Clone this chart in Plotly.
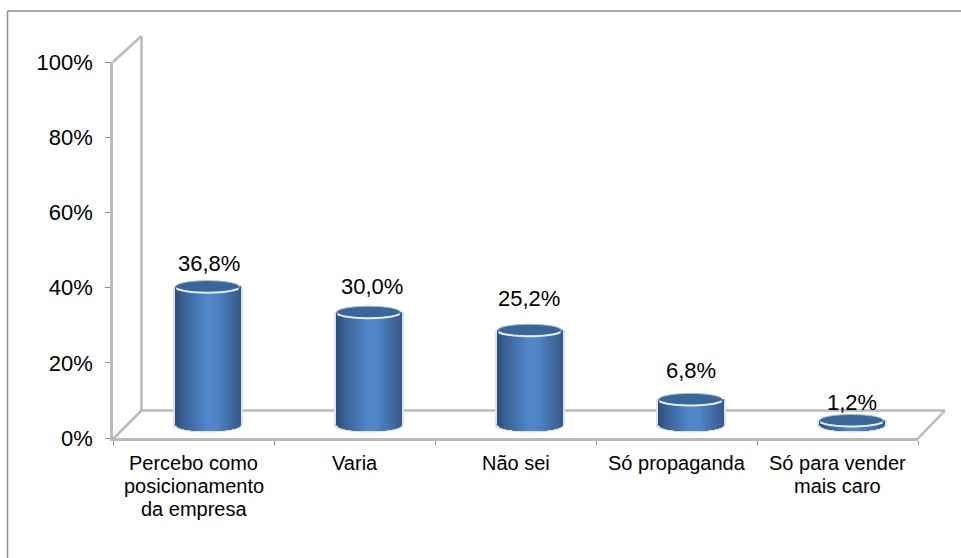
import math
import plotly.graph_objects as go

categories = ["Percebo como<br>posicionamento<br>da empresa", "Varia", "Não sei",
              "Só propaganda", "Só para vender<br>mais caro"]
values = [36.8, 30.0, 25.2, 6.8, 1.2]
value_labels = ["36,8%", "30,0%", "25,2%", "6,8%", "1,2%"]
y_ticks = [0, 20, 40, 60, 80, 100]
y_tick_labels = ["0%", "20%", "40%", "60%", "80%", "100%"]

# Hand-placed data labels: pixels above / beside the top of each cylinder
label_lift = [23, 26, 32, 29, 18]
label_nudge = [1, 3, -1, 0, 0]

W, H = 961, 558
FONT = "Liberation Sans"
WALL = "#bababa"
BAR_PX = 66
RY = 6
FONT_SIZE = 20
NUMBER_SIZE = 22


def px(x):
    return x / W


def py(y):
    return 1 - y / H


# Plot planes in page pixels: front plane carries the axes, mid plane the cylinders
FRONT_X = (113, 918)
FRONT_Y = (438, 62)
MID_X = (127, 932)
MID_BASE = 425
UNIT = (FRONT_Y[0] - FRONT_Y[1]) / 100
MID_BELOW = 4  # value units kept under the baseline so the round bottom is not clipped
MID_Y = (MID_BASE + MID_BELOW * UNIT, MID_BASE - 110 * UNIT)

STOPS = [(0.0, (43, 76, 118)), (0.12, (56, 96, 148)), (0.5, (82, 136, 204)),
         (0.62, (80, 134, 200)), (0.88, (62, 104, 158)), (1.0, (52, 90, 138))]


def shade(t):
    for (a, ca), (b, cb) in zip(STOPS, STOPS[1:]):
        if t <= b:
            f = (t - a) / (b - a)
            return "rgb(%d,%d,%d)" % tuple(round(p + (q - p) * f) for p, q in zip(ca, cb))
    return "rgb(%d,%d,%d)" % STOPS[-1][1]


STRIPS = 26
cat_width = (MID_X[1] - MID_X[0]) / len(categories)
bar_units = BAR_PX / cat_width

fig = go.Figure()

# Pale halo behind each cylinder
fig.add_trace(go.Bar(x=categories, y=values, xaxis="x2", yaxis="y2",
                     width=(BAR_PX + 4) / cat_width, marker=dict(color="#dfe3e8", line_width=0),
                     hoverinfo="skip", showlegend=False))

# Cylinder body: each strip runs to the right edge and is overpainted by the next one
for k in range(STRIPS):
    t = k / STRIPS
    fig.add_trace(go.Bar(x=categories, y=values, xaxis="x2", yaxis="y2",
                         offset=(t - 0.5) * bar_units, width=(1 - t) * bar_units,
                         marker=dict(color=shade((k + 0.5) / STRIPS), line_width=0),
                         hoverinfo="skip", showlegend=False))

shapes = []


def frame(x0, y0, x1, y1):
    shapes.append(dict(type="line", xref="paper", yref="paper", layer="below",
                       x0=px(x0), y0=py(y0), x1=px(x1), y1=py(y1),
                       line=dict(color=WALL, width=2.5)))


# Outer chart border (top and left only)
for a, b, c, d in [(7.5, 11, 961, 11), (7.5, 11, 7.5, 558)]:
    shapes.append(dict(type="line", xref="paper", yref="paper", layer="below",
                       x0=px(a), y0=py(b), x1=px(c), y1=py(d),
                       line=dict(color="#8c8c8c", width=1.5)))

# Back wall, floor edge and depth diagonals
frame(141.5, 36, 141.5, 410.5)
frame(141.5, 410.5, 945, 410.5)
frame(113, 62, 141.5, 36)
frame(113, 439, 141.5, 410.5)
frame(917.5, 439, 945, 410.5)


def anchored(cat, anchor_y, **kw):
    return dict(xref="x2", yref="y2", xsizemode="pixel", ysizemode="pixel",
                xanchor=cat, yanchor=anchor_y, **kw)


def arc_path(x_from, x_to, rx, ry, sign, n=8):
    pts = []
    for j in range(n + 1):
        x = x_from + (x_to - x_from) * j / n
        pts.append((x, sign * ry * math.sqrt(max(0.0, 1 - (x / rx) ** 2))))
    return pts


rx = BAR_PX / 2
for cat, v in zip(categories, values):
    # Light rim below the round base, hidden behind the body except for its lower edge
    shapes.append(anchored(cat, 0, type="circle", layer="below", x0=-rx - 2, x1=rx + 2,
                           y0=-RY - 1.5, y1=RY, fillcolor="#d9dfe6", line_width=0))
    # Round base: same strips as the body, following the lower half of an ellipse
    for k in range(STRIPS):
        t = k / STRIPS
        pts = arc_path(-rx + 2 * rx * t, rx, rx, RY, -1)
        d = "M%.2f,0.5 " % pts[0][0] + " ".join("L%.2f,%.2f" % p for p in pts) + " L%.2f,0.5 Z" % rx
        shapes.append(anchored(cat, 0, type="path", layer="above", path=d,
                               fillcolor=shade((k + 0.5) / STRIPS), line_width=0))
    # Top face with its pale rim
    shapes.append(anchored(cat, v, type="circle", layer="above", x0=-rx + 1, x1=rx - 1,
                           y0=-RY, y1=RY, fillcolor="#3a6799",
                           line=dict(color="#a9bbd1", width=1)))
    lower = arc_path(-rx + 2, rx - 2, rx, RY, -1, n=16)
    d = "M" + " L".join("%.2f,%.2f" % p for p in lower)
    shapes.append(anchored(cat, v, type="path", layer="above", path=d,
                           line=dict(color="#e6ecf3", width=2)))

annotations = []
for cat, v, text, lift, nudge in zip(categories, values, value_labels, label_lift, label_nudge):
    annotations.append(dict(xref="x2", yref="y2", x=cat, y=v, text=text, showarrow=False,
                            yshift=lift, xshift=nudge, xanchor="center", yanchor="middle",
                            font=dict(family=FONT, size=NUMBER_SIZE, color="#000000")))

# Category labels, one annotation per line for tighter leading than the axis allows
for i, cat in enumerate(categories):
    for n, line in enumerate(cat.split("<br>")):
        annotations.append(dict(xref="x", yref="y", x=i, y=0, text=line, showarrow=False,
                                yshift=-25 - 23 * n, xanchor="center", yanchor="middle",
                                font=dict(family=FONT, size=FONT_SIZE, color="#000000")))

# Category axis: ticks sit on the boundaries between categories
boundaries = [i - 0.5 for i in range(len(categories) + 1)]

fig.update_layout(
    width=W, height=H, autosize=False, margin=dict(l=0, r=0, t=0, b=0),
    paper_bgcolor="white", plot_bgcolor="rgba(0,0,0,0)",
    barmode="overlay", bargap=0, showlegend=False,
    shapes=shapes, annotations=annotations,
    xaxis=dict(domain=[px(FRONT_X[0]), px(FRONT_X[1])], range=[-0.5, len(categories) - 0.5],
               type="linear", tickmode="array", tickvals=boundaries, showticklabels=False,
               automargin=False,
               ticks="outside", ticklen=4, tickwidth=1, tickcolor="#8c8c8c",
               showgrid=False, zeroline=False, showline=True, linecolor=WALL, linewidth=2.5,
               anchor="y", fixedrange=True),
    yaxis=dict(domain=[py(FRONT_Y[0]), py(FRONT_Y[1])], range=[0, 100], automargin=False,
               tickmode="array", tickvals=y_ticks, ticktext=y_tick_labels,
               ticks="outside", ticklen=5, tickwidth=1, tickcolor="#8c8c8c",
               ticklabelstandoff=8,
               tickfont=dict(family=FONT, size=NUMBER_SIZE, color="#000000"),
               showgrid=False, zeroline=False, showline=True, linecolor=WALL, linewidth=2.5,
               anchor="x", fixedrange=True),
    xaxis2=dict(domain=[px(MID_X[0]), px(MID_X[1])], range=[-0.5, len(categories) - 0.5],
                type="category", categoryorder="array", categoryarray=categories,
                visible=False, anchor="y2", fixedrange=True, automargin=False),
    yaxis2=dict(domain=[py(MID_Y[0]), py(MID_Y[1])], range=[-MID_BELOW, 110],
                visible=False, anchor="x2", fixedrange=True, automargin=False),
)
# An empty trace brings the front axes into the figure
fig.add_trace(go.Scatter(x=list(range(len(categories))), y=[None] * len(categories),
                         xaxis="x", yaxis="y", hoverinfo="skip", showlegend=False))
fig.write_html("out.html")
